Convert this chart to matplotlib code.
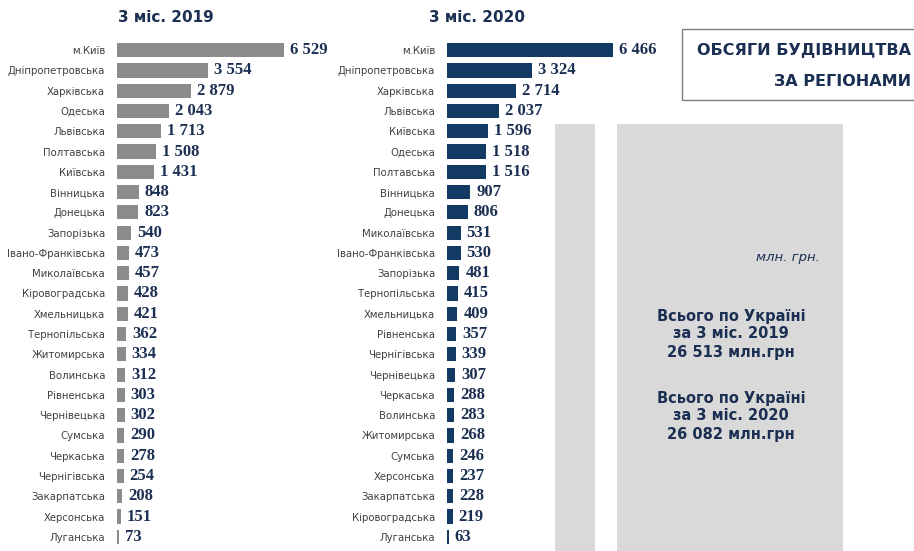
import matplotlib.pyplot as plt
from matplotlib.patches import Rectangle

# Обсяги будівництва за регіонами, млн. грн.
regions_2019 = ["м.Київ", "Дніпропетровська", "Харківська", "Одеська", "Львівська",
                "Полтавська", "Київська", "Вінницька", "Донецька", "Запорізька",
                "Івано-Франківська", "Миколаївська", "Кіровоградська", "Хмельницька",
                "Тернопільська", "Житомирська", "Волинська", "Рівненська", "Чернівецька",
                "Сумська", "Черкаська", "Чернігівська", "Закарпатська", "Херсонська",
                "Луганська"]
values_2019 = [6529, 3554, 2879, 2043, 1713, 1508, 1431, 848, 823, 540, 473, 457, 428,
               421, 362, 334, 312, 303, 302, 290, 278, 254, 208, 151, 73]

regions_2020 = ["м.Київ", "Дніпропетровська", "Харківська", "Львівська", "Київська",
                "Одеська", "Полтавська", "Вінницька", "Донецька", "Миколаївська",
                "Івано-Франківська", "Запорізька", "Тернопільська", "Хмельницька",
                "Рівненська", "Чернігівська", "Чернівецька", "Черкаська", "Волинська",
                "Житомирська", "Сумська", "Херсонська", "Закарпатська", "Кіровоградська",
                "Луганська"]
values_2020 = [6466, 3324, 2714, 2037, 1596, 1518, 1516, 907, 806, 531, 530, 481, 415,
               409, 357, 339, 307, 288, 283, 268, 246, 237, 228, 219, 63]

total_2019 = "26 513"
total_2020 = "26 082"

W, H = 914, 551
NAVY = "#1b2f52"
LABEL = "#404040"
PANEL = "#d9d9d9"
SCALE = 0.0256  # px per млн. грн.

fig = plt.figure(figsize=(W / 100, H / 100), dpi=100)
fig.patch.set_facecolor("white")


def px_rect(x0, y0, x1, y1):
    # pixel box (top-left origin) -> figure fraction [l, b, w, h]
    return [x0 / W, 1 - y1 / H, (x1 - x0) / W, (y1 - y0) / H]


# grey background panels on the right
for x0, x1 in [(555, 595), (617, 843)]:
    fig.patches.append(Rectangle((x0 / W, 0), (x1 - x0) / W, 1 - 124 / H,
                                 transform=fig.transFigure, facecolor=PANEL,
                                 edgecolor="none", zorder=0))

# heading box
fig.patches.append(Rectangle((682 / W, 1 - 100 / H), 240 / W, 71 / H,
                             transform=fig.transFigure, facecolor="white",
                             edgecolor="#7f7f7f", linewidth=1.0, zorder=1))
fig.text(911 / W, 1 - 51 / H, "ОБСЯГИ БУДІВНИЦТВА", ha="right", va="center",
         fontsize=11.5, fontweight="bold", color=NAVY, zorder=2)
fig.text(911 / W, 1 - 82 / H, "ЗА РЕГІОНАМИ", ha="right", va="center",
         fontsize=11.5, fontweight="bold", color=NAVY, zorder=2)


def draw_panel(x_left, regions, values, color, title, title_x):
    width_px = 230
    ax = fig.add_axes(px_rect(x_left, 40, x_left + width_px, 547))
    ax.set_facecolor("none")
    n = len(regions)
    ypos = list(range(n))
    ax.barh(ypos, values, height=0.7, color=color)
    ax.set_xlim(0, width_px / SCALE)
    ax.set_ylim(n - 0.5, -0.5)
    ax.set_yticks(ypos)
    ax.set_yticklabels(regions, fontsize=7.3, color=LABEL)
    ax.tick_params(axis="y", length=0, pad=8.5)
    ax.set_xticks([])
    for s in ax.spines.values():
        s.set_visible(False)
    for y, v in zip(ypos, values):
        ax.text(v + 6 / SCALE, y, f"{v:,}".replace(",", " "), va="center",
                ha="left", fontsize=12, fontweight="bold", color=NAVY,
                family="Liberation Serif")
    fig.text(title_x / W, 1 - 18 / H, title, ha="center", va="center",
             fontsize=11, fontweight="bold", color=NAVY)


draw_panel(117, regions_2019, values_2019, "#8c8c8c", "3 міс. 2019", 166)
draw_panel(447, regions_2020, values_2020, "#133a65", "3 міс. 2020", 477)

fig.text(820 / W, 1 - 257 / H, "млн. грн.", ha="right", va="center",
         fontsize=9.5, style="italic", color=NAVY)
fig.text(731 / W, 1 - 334 / H,
         f"Всього по Україні\nза 3 міс. 2019\n{total_2019} млн.грн",
         ha="center", va="center", fontsize=10.5, fontweight="bold",
         color=NAVY, linespacing=1.25)
fig.text(731 / W, 1 - 416 / H,
         f"Всього по Україні\nза 3 міс. 2020\n{total_2020} млн.грн",
         ha="center", va="center", fontsize=10.5, fontweight="bold",
         color=NAVY, linespacing=1.25)

fig.savefig("out.png", dpi=100)
